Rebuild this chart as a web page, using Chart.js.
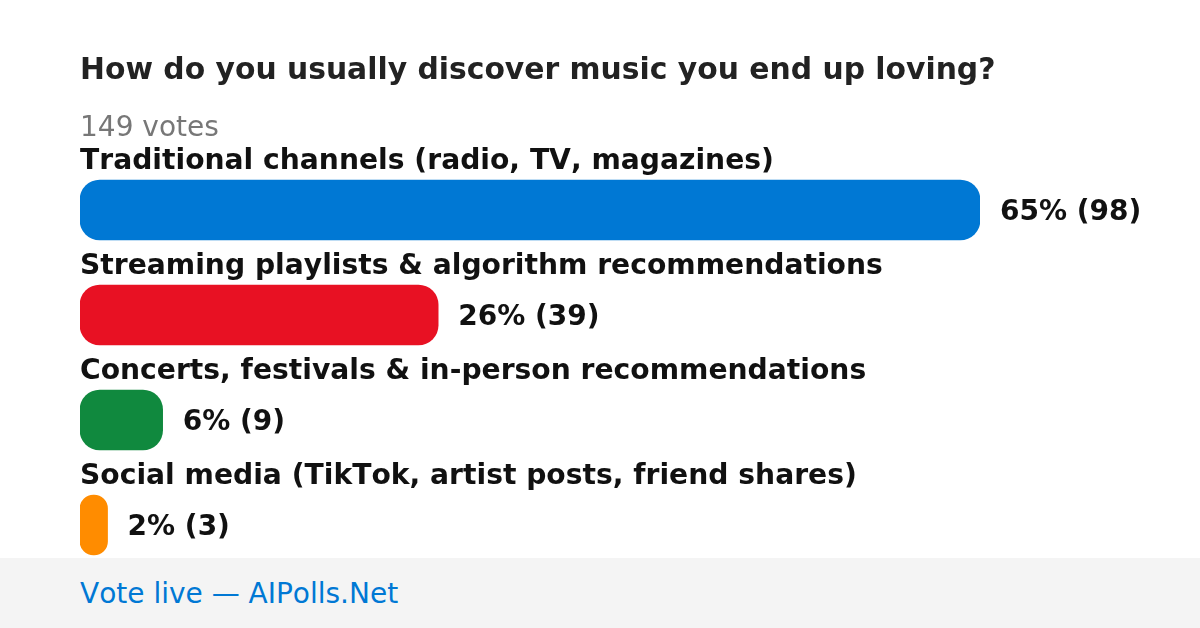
<!DOCTYPE html>
<html>
<head>
<meta charset="utf-8">
<script src="https://cdn.jsdelivr.net/npm/chart.js@4"></script>
<style>
  html, body { margin: 0; padding: 0; background: #fff; }
  body { width: 1200px; height: 628px; position: relative; overflow: hidden; font-family: "DejaVu Sans", sans-serif; font-kerning: none; }
  #chart { position: absolute; left: 0; top: 0; }
  .txt { position: absolute; left: 80px; line-height: 1; white-space: nowrap; }
  #title { top: 54px; font-size: 29.8px; font-weight: bold; color: #222; }
  #votes { top: 113px; font-size: 28px; color: #777; }
  #footer { position: absolute; left: 0; top: 558px; width: 1200px; height: 70px; background: #f4f4f4; }
  #link { top: 580px; font-size: 28px; color: #0078d4; }
</style>
</head>
<body>
<canvas id="chart" width="1200" height="628"></canvas>
<div id="title" class="txt">How do you usually discover music you end up loving?</div>
<div id="votes" class="txt">149 votes</div>
<div id="footer"></div>
<div id="link" class="txt">Vote live — AIPolls.Net</div>
<script>
// poll data
const categories = [
  'Traditional channels (radio, TV, magazines)',
  'Streaming playlists & algorithm recommendations',
  'Concerts, festivals & in-person recommendations',
  'Social media (TikTok, artist posts, friend shares)'
];
const votes = [98, 39, 9, 3];
const percents = [65, 26, 6, 2];
const colors = ['#0078d4', '#e81123', '#10893e', '#ff8c00'];

// labels above the bars and value text to the right
const pollLabels = {
  id: 'pollLabels',
  afterDatasetsDraw(chart) {
    const ctx = chart.ctx;
    const meta = chart.getDatasetMeta(0);
    ctx.save();
    ctx.fillStyle = '#111';
    ctx.fontKerning = 'none';
    ctx.textBaseline = 'alphabetic';
    ctx.textAlign = 'left';
    meta.data.forEach((bar, i) => {
      ctx.font = 'bold 28.2px "DejaVu Sans"';
      ctx.fillText(categories[i], chart.chartArea.left, bar.y - 41);
      ctx.font = 'bold 28px "DejaVu Sans"';
      ctx.fillText(percents[i] + '% (' + votes[i] + ')', bar.x + 20, bar.y + 10);
    });
    ctx.restore();
  }
};

const chart = new Chart(document.getElementById('chart'), {
  type: 'bar',
  data: {
    labels: categories,
    datasets: [{
      data: votes,
      backgroundColor: colors,
      borderRadius: 20,
      borderSkipped: false,
      barThickness: 60
    }]
  },
  options: {
    indexAxis: 'y',
    responsive: false,
    animation: false,
    layout: { padding: { left: 80, right: 220, top: 157.5, bottom: 50.5 } },
    scales: {
      x: { display: false, min: 0, max: Math.max(...votes) },
      y: { display: false }
    },
    plugins: { legend: { display: false }, tooltip: { enabled: false } }
  },
  plugins: [pollLabels]
});
</script>
</body>
</html>
